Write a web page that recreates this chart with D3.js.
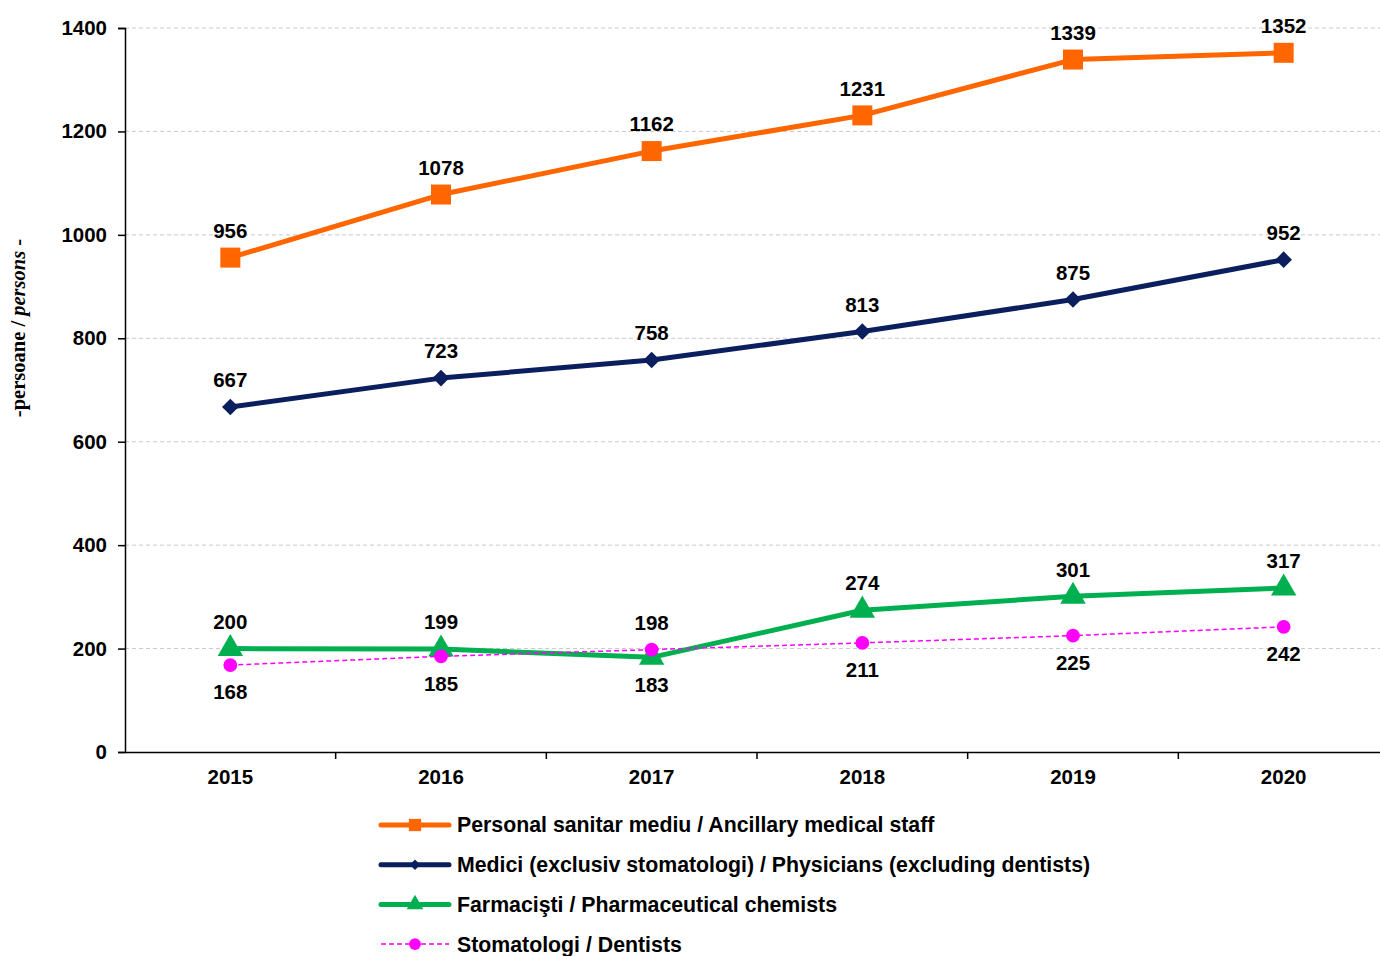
<!DOCTYPE html>
<html><head><meta charset="utf-8">
<script src="https://cdn.jsdelivr.net/npm/d3@7"></script>
<style>body{margin:0;background:#fff}svg{display:block}</style>
</head><body>
<svg id="c" width="1380" height="956"></svg>
<script>
const years = ["2015","2016","2017","2018","2019","2020"];
const ancillary = [956,1078,1162,1231,1339,1352];
const physicians = [667,723,758,813,875,952];
const pharmacists = [200,199,183,274,301,317];
const dentists = [168,185,198,211,225,242];
const yTicks = [0,200,400,600,800,1000,1200,1400];
const seriesNames = [
  "Personal sanitar mediu / Ancillary medical staff",
  "Medici (exclusiv stomatologi) / Physicians (excluding dentists)",
  "Farmacişti / Pharmaceutical chemists",
  "Stomatologi / Dentists"
];

(function(){
const svg = d3.select("#c");
const pLeft = 125, pRight = 1389, pTop = 28, pBottom = 752;
const x = d3.scaleBand().domain(years).range([pLeft, pRight]);
const y = d3.scaleLinear().domain([0,1400]).range([pBottom, pTop]);
const cx = d => x(d) + x.bandwidth()/2;
const font = "'Liberation Sans', Arial, sans-serif";
const fs = "20.5px";

// gridlines
svg.append("g").selectAll("line").data(yTicks.filter(t=>t>0)).join("line")
  .attr("x1", pLeft).attr("x2", 1380).attr("y1", d=>y(d)).attr("y2", d=>y(d))
  .attr("stroke", "#c8c8c8").attr("stroke-width", 1).attr("stroke-dasharray", "4,3");

// y axis
const ya = svg.append("g").attr("transform", `translate(${pLeft},0)`)
  .call(d3.axisLeft(y).tickValues(yTicks).tickSize(7).tickPadding(11).tickFormat(d3.format("d")));
ya.select(".domain").attr("stroke","#000").attr("stroke-width",1.5);
ya.selectAll(".tick line").attr("stroke","#000").attr("stroke-width",1.5);
ya.selectAll("text").attr("font-family", font).attr("font-weight","bold").attr("font-size",fs).attr("fill","#000");

// x axis
const xa = svg.append("g").attr("transform", `translate(0,${pBottom})`)
  .call(d3.axisBottom(x).tickSize(0).tickPadding(17));
xa.select(".domain").attr("stroke","#000").attr("stroke-width",1.5);
xa.selectAll("text").attr("font-family", font).attr("font-weight","bold").attr("font-size",fs).attr("fill","#000");
svg.append("g").selectAll("line").data(years.slice(1)).join("line")
  .attr("x1", d=>x(d)).attr("x2", d=>x(d)).attr("y1", pBottom).attr("y2", pBottom+7)
  .attr("stroke","#000").attr("stroke-width",1.5);

// y title
const yt = svg.append("text").attr("transform","translate(25,328) rotate(-90)")
  .attr("text-anchor","middle").attr("font-family","'Liberation Serif', 'Times New Roman', serif")
  .attr("font-weight","bold").attr("font-size","20.5px");
yt.append("tspan").text("-persoane / ");
yt.append("tspan").attr("font-style","italic").text("persons");
yt.append("tspan").text(" -");

const series = [
  {name: seriesNames[0], values: ancillary, color: "#FF6600", width: 5, dash: null, marker: "square", size: 400, lsize: 150},
  {name: seriesNames[1], values: physicians, color: "#0B1F5E", width: 5, dash: null, marker: "diamond", size: 160, lsize: 70},
  {name: seriesNames[2], values: pharmacists, color: "#00B050", width: 5, dash: null, marker: "triangle", size: 280, lsize: 120},
  {name: seriesNames[3], values: dentists, color: "#FF00FF", width: 1.5, dash: "5,3", marker: "circle", size: 150, lsize: 110}
];
const symType = {square: d3.symbolSquare, diamond: d3.symbolDiamond2, triangle: d3.symbolTriangle, circle: d3.symbolCircle};

const line = d3.line().x((d,i)=>cx(years[i])).y(d=>y(d));
[0,1,2,3].forEach(k=>{
  const s = series[k];
  const g = svg.append("g");
  g.append("path").attr("d", line(s.values)).attr("fill","none")
    .attr("stroke", s.color).attr("stroke-width", s.width)
    .attr("stroke-dasharray", s.dash).attr("stroke-linejoin","round");
  g.selectAll("path.m").data(s.values).join("path").attr("class","m")
    .attr("transform",(d,i)=>`translate(${cx(years[i])},${y(d)})`)
    .attr("d", d3.symbol().type(symType[s.marker]).size(s.marker==="diamond"?s.size*1.1:s.size))
    .attr("fill", s.color);
});

function labelPos(k, i) {
  if (k < 2) return -1;
  const other = k === 2 ? dentists[i] : pharmacists[i];
  const mine = series[k].values[i];
  return mine >= other ? -1 : 1;
}
series.forEach((s,k)=>{
  svg.append("g").selectAll("text").data(s.values).join("text")
    .attr("x",(d,i)=>cx(years[i]))
    .attr("y",(d,i)=>y(d) + labelPos(k,i)*27)
    .attr("dy","0.35em").attr("text-anchor","middle")
    .attr("font-family", font).attr("font-weight","bold").attr("font-size",fs)
    .text(d=>d);
});

const lg = svg.append("g");
series.forEach((s,k)=>{
  const ly = 825 + k*39.7;
  lg.append("line").attr("x1",381).attr("x2",449).attr("y1",ly).attr("y2",ly)
    .attr("stroke",s.color).attr("stroke-width",s.width).attr("stroke-dasharray",s.dash)
    .attr("stroke-linecap", s.dash ? "butt" : "round");
  lg.append("path").attr("transform",`translate(415,${ly})`)
    .attr("d", d3.symbol().type(symType[s.marker]).size(s.lsize)).attr("fill",s.color);
  lg.append("text").attr("x",457).attr("y",ly).attr("dy","0.35em")
    .attr("font-family",font).attr("font-weight","bold").attr("font-size","21.3px").text(s.name);
});
})();
</script>
</body></html>
